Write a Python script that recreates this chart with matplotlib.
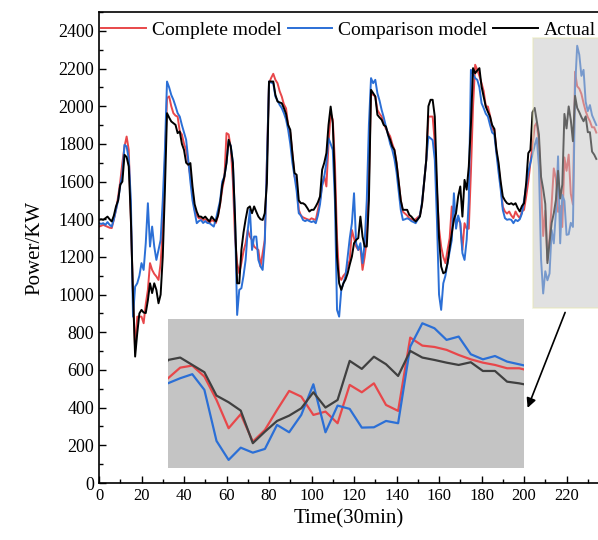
import numpy as np
import matplotlib
matplotlib.use("Agg")
import matplotlib.pyplot as plt
from matplotlib.patches import Rectangle

plt.rcParams['font.family'] = ['Liberation Serif', 'DejaVu Serif']

actual = [
    1397, 1400, 1397, 1405, 1414, 1400, 1388, 1420, 1468, 1500,
    1583, 1600, 1742, 1730, 1680, 1400, 1000, 671, 796, 900,
    919, 905, 902, 970, 1060, 1008, 1060, 1025, 954, 1000,
    1200, 1550, 1963, 1940, 1919, 1910, 1901, 1857, 1866, 1800,
    1768, 1700, 1689, 1698, 1574, 1480, 1440, 1414, 1414, 1405,
    1414, 1400, 1388, 1414, 1400, 1388, 1420, 1485, 1580, 1627,
    1700, 1822, 1786, 1698, 1414, 1060, 1060, 1237, 1330, 1400,
    1459, 1468, 1432, 1468, 1440, 1414, 1400, 1396, 1432, 1592,
    2131, 2131, 2131, 2060, 2025, 2020, 2016, 1990, 1960, 1900,
    1875, 1750, 1645, 1636, 1500, 1485, 1485, 1477, 1460, 1441,
    1450, 1450, 1468, 1490, 1521, 1663, 1700, 1751, 1900, 1998,
    1910, 1592, 1200, 1060, 1025, 1060, 1080, 1113, 1160, 1202,
    1273, 1290, 1300, 1414, 1308, 1255, 1255, 1500, 2087, 2070,
    2052, 1954, 1940, 1928, 1900, 1892, 1850, 1822, 1786, 1768,
    1698, 1600, 1500, 1450, 1450, 1450, 1423, 1414, 1400, 1388,
    1400, 1414, 1480, 1600, 1716, 2000, 2034, 2034, 1945, 1600,
    1300, 1149, 1113, 1120, 1167, 1250, 1326, 1400, 1432, 1521,
    1574, 1414, 1609, 1557, 1680, 1900, 2202, 2175, 2190, 2202,
    2105, 2050, 1998, 1970, 1945, 1900, 1880, 1770, 1700, 1600,
    1521, 1500, 1485, 1480, 1485, 1477, 1485, 1460, 1441, 1470,
    1485, 1592, 1751, 1768, 1968, 1991, 1920, 1850, 1625, 1561,
    1481, 1167, 1278, 1381, 1432, 1503, 1657, 1510, 1583, 1959,
    1882, 1999, 1927, 1814, 2055, 1991, 1968, 1942, 1920, 1946,
    1862, 1862, 1759, 1743, 1720,
]

complete = [
    1361, 1365, 1370, 1365, 1360, 1355, 1353, 1400, 1450, 1520,
    1600, 1700, 1786, 1839, 1768, 1400, 1000, 706, 883, 883,
    883, 848, 950, 1025, 1167, 1131, 1110, 1096, 1078, 1167,
    1350, 1700, 2043, 2052, 2000, 1963, 1950, 1945, 1866, 1850,
    1800, 1768, 1700, 1627, 1550, 1450, 1420, 1405, 1405, 1396,
    1400, 1390, 1380, 1396, 1390, 1380, 1420, 1480, 1560, 1620,
    1857, 1850, 1780, 1600, 1300, 1167, 1113, 1167, 1230, 1273,
    1343, 1308, 1290, 1255, 1245, 1237, 1149, 1220, 1290, 1700,
    2122, 2150, 2172, 2140, 2122, 2080, 2051, 2010, 1989, 1900,
    1860, 1750, 1627, 1600, 1450, 1420, 1410, 1405, 1400, 1396,
    1405, 1400, 1396, 1450, 1500, 1580, 1627, 1574, 1800, 1963,
    1928, 1700, 1300, 1096, 1078, 1100, 1113, 1150, 1184, 1343,
    1300, 1255, 1237, 1250, 1131, 1200, 1290, 1600, 2069, 2060,
    2052, 1980, 1960, 1945, 1910, 1880, 1860, 1840, 1800, 1768,
    1700, 1600, 1500, 1440, 1430, 1420, 1405, 1400, 1396, 1400,
    1410, 1420, 1480, 1600, 1716, 1945, 1945, 1945, 1804, 1550,
    1350, 1255, 1200, 1167, 1237, 1300, 1468, 1420, 1379, 1400,
    1380, 1237, 1379, 1350, 1350, 1650, 2000, 2220, 2193, 2160,
    2122, 2080, 2000, 1998, 1950, 1875, 1880, 1760, 1680, 1580,
    1467, 1441, 1430, 1441, 1420, 1406, 1441, 1420, 1406, 1441,
    1450, 1521, 1600, 1700, 1792, 1894, 1914, 1808, 1583, 1311,
    1446, 1182, 1295, 1487, 1670, 1615, 1439, 1471, 1359, 1728,
    1657, 1743, 1535, 1478, 2183, 2106, 2093, 2065, 2016, 1974,
    1942, 1920, 1888, 1888, 1860,
]

comparison = [
    1379, 1375, 1379, 1370, 1385, 1370, 1361, 1400, 1450, 1500,
    1580, 1640, 1795, 1786, 1720, 1500, 883, 1042, 1060, 1100,
    1167, 1131, 1273, 1485, 1255, 1361, 1255, 1184, 1237, 1290,
    1500, 1768, 2131, 2100, 2060, 2034, 2000, 1963, 1945, 1900,
    1860, 1822, 1716, 1600, 1500, 1440, 1379, 1390, 1396, 1380,
    1390, 1380, 1379, 1370, 1361, 1400, 1450, 1500, 1600, 1627,
    1700, 1813, 1790, 1700, 1400, 892, 1025, 1034, 1100, 1184,
    1343, 1450, 1237, 1308, 1308, 1184, 1150, 1131, 1273, 1700,
    2131, 2125, 2122, 2051, 2030, 2007, 1990, 1963, 1930, 1875,
    1800, 1700, 1627, 1550, 1432, 1420, 1396, 1390, 1396, 1390,
    1385, 1390, 1379, 1420, 1480, 1580, 1627, 1700, 1830, 1800,
    1768, 1500, 919, 883, 1025, 1060, 1100, 1202, 1300, 1379,
    1538, 1273, 1237, 1273, 1167, 1273, 1500, 1900, 2149, 2122,
    2140, 2069, 2030, 1980, 1940, 1892, 1850, 1800, 1768, 1720,
    1650, 1550, 1450, 1396, 1400, 1405, 1400, 1390, 1385, 1379,
    1400, 1420, 1490, 1600, 1716, 1839, 1830, 1820, 1716, 1400,
    1000, 919, 1060, 1100, 1167, 1230, 1290, 1538, 1350, 1420,
    1380, 1220, 1184, 1290, 1500, 2193, 2170, 2149, 2140, 2100,
    2016, 1990, 1960, 1945, 1900, 1860, 1850, 1750, 1650, 1560,
    1450, 1406, 1397, 1400, 1397, 1379, 1397, 1390, 1400, 1430,
    1500, 1574, 1650, 1700, 1744, 1792, 1831, 1680, 1189, 1006,
    1124, 1076, 1112, 1343, 1272, 1439, 1734, 1272, 1529, 1497,
    1317, 1320, 1381, 1359, 2096, 2321, 2273, 2161, 2193, 2023,
    1974, 2006, 1952, 1926, 1900,
]

labels = ["Complete model", "Comparison model", "Actual"]
time = np.arange(len(actual))

c_red = '#e8474a'
c_blue = '#2b6fd6'
c_black = '#000000'

fig = plt.figure(figsize=(5.98, 5.40), dpi=100)
ax = fig.add_axes([99/598, 1-483/540, 1-99/598, (483-12)/540])

ax.plot(time, complete, color=c_red, lw=1.4, label=labels[0], zorder=2)
ax.plot(time, comparison, color=c_blue, lw=1.4, label=labels[1], zorder=2)
ax.plot(time, actual, color=c_black, lw=1.4, label=labels[2], zorder=2)

ax.set_xlim(0, 234.8)
ax.set_ylim(0, 2500)
ax.set_xticks(np.arange(0, 221, 20))
ax.set_xticks(np.arange(0, 235, 10), minor=True)
ax.set_yticks(np.arange(0, 2401, 200))
ax.set_yticks(np.arange(0, 2501, 100), minor=True)
ax.tick_params(axis='both', which='major', direction='in', length=5, width=1)
ax.tick_params(axis='both', which='minor', direction='in', length=3, width=1)
ax.tick_params(axis='y', labelsize=13)
ax.tick_params(axis='x', labelsize=12)
ax.spines['right'].set_visible(False)
for s in ['left', 'bottom', 'top']:
    ax.spines[s].set_linewidth(1.2)

ax.set_xlabel("Time(30min)", fontsize=15, labelpad=4)
ax.set_ylabel("Power/KW", fontsize=15, labelpad=10)

leg = ax.legend(loc='center left', bbox_to_anchor=(0.005, (483-30)/471),
                frameon=False, ncol=3, fontsize=14, handlelength=2.3,
                handletextpad=0.3, columnspacing=0.3, borderpad=0,
                borderaxespad=0)

# highlighted region
x0, x1 = 204, 233.4
y0, y1 = 929, 2363
rect = Rectangle((x0, y0), 40, y1 - y0, facecolor='#c4c4c4', alpha=0.5,
                 edgecolor='#e6e6b4', lw=1.2, zorder=3)
ax.add_patch(rect)

# inset
axin = ax.inset_axes([32.5, 80, 167.5, 791], transform=ax.transData)
axin.set_facecolor('#c4c4c4')
axin.plot(time, complete, color=c_red, lw=1.6)
axin.plot(time, comparison, color=c_blue, lw=1.6)
axin.plot(time, actual, color='#404040', lw=1.6)
axin.set_xlim(x0, x1)
axin.set_ylim(y0, y1)
axin.set_xticks([])
axin.set_yticks([])
for s in axin.spines.values():
    s.set_visible(False)
axin.set_zorder(4)

ax.annotate('', xy=(201.2, 385), xytext=(219.8, 919),
            arrowprops=dict(arrowstyle='-|>', color='black', lw=1.2,
                            mutation_scale=14), zorder=6,
            annotation_clip=False)

fig.savefig('out.png', dpi=100)
